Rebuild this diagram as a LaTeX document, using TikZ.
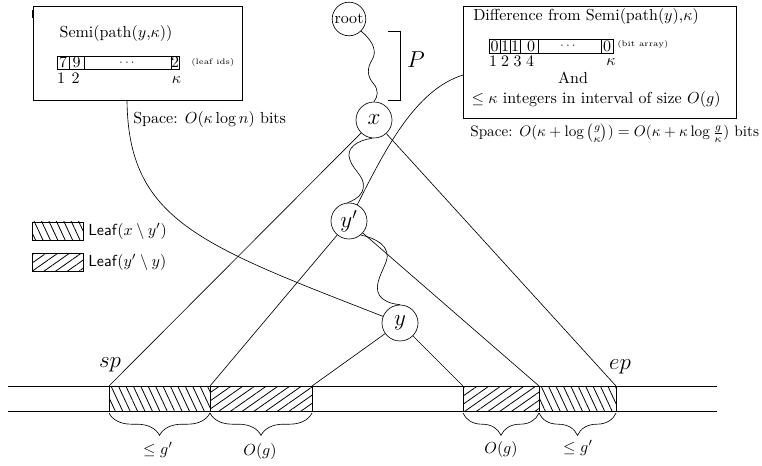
\documentclass[tikz,border=0pt]{standalone}
\usepackage{amsmath}
\usetikzlibrary{patterns.meta,decorations.pathreplacing}
\begin{document}
\begin{tikzpicture}[x=0.625pt,y=-0.625pt,
  treenode/.style={draw,circle,minimum size=22.5pt,inner sep=0pt,font=\Large},
  txt/.style={inner sep=0pt},
  hatchA/.style={pattern={Lines[angle=-65,distance=4.2pt,line width=0.5pt]}},
  hatchB/.style={pattern={Lines[angle=35,distance=4.2pt,line width=0.5pt]}},
  underbrace/.style={decorate,decoration={brace,mirror,amplitude=14pt}},
]
\useasboundingbox (0,0) rectangle (762,466);

% ---------- information boxes ----------
\node[draw,minimum width=130.6pt,minimum height=58.75pt,inner sep=0pt] (lbox) at (137.5,53) {};
\draw[line width=1pt] (33,10) -- (33,18);
\node[txt] (lhead) at (116,34) {Semi(path($y$,$\kappa$))};
\draw (57,56) rectangle (179,69);
\draw (69,56) -- (69,69) (84,56) -- (84,69) (171,56) -- (171,69);
\node[txt] (l7) at (63,62.5) {7};
\node[txt] (l9) at (76.5,62.5) {9};
\node[txt,font=\scriptsize] (ldots) at (128,62.5) {$\cdots$};
\node[txt] (l2) at (175,62.5) {2};
\node[txt,font=\tiny,anchor=west] (lids) at (191,63) {(leaf ids)};
\node[txt] (ln1) at (61,78) {1};
\node[txt] (ln2) at (75.5,78) {2};
\node[txt] (lk) at (176.5,80) {$\kappa$};
\node[txt,anchor=west] (lspace) at (133,120) {Space: $O(\kappa\log n)$ bits};

\node[draw,minimum width=170.6pt,minimum height=70pt,inner sep=0pt] (rbox) at (599.5,62) {};
\node[txt] (rhead) at (586,17) {Difference from Semi(path($y$),$\kappa$)};
\draw (489,39) rectangle (613,53);
\draw (500,39) -- (500,53) (510,39) -- (510,53) (520.5,39) -- (520.5,53)
      (538.5,39) -- (538.5,53) (601,39) -- (601,53);
\node[txt] (r1) at (494.5,46) {0};
\node[txt] (r2) at (505,46) {1};
\node[txt] (r3) at (515,46) {1};
\node[txt] (r4) at (531,46) {0};
\node[txt,font=\scriptsize] (rdots) at (569,46) {$\cdots$};
\node[txt] (r5) at (607,46) {0};
\node[txt,font=\tiny,anchor=west] (rbits) at (617,45) {(bit array)};
\node[txt] (rn1) at (493,61) {1};
\node[txt] (rn2) at (505,61) {2};
\node[txt] (rn3) at (517.5,61) {3};
\node[txt] (rn4) at (530,61) {4};
\node[txt] (rk) at (611,62) {$\kappa$};
\node[txt] (rand) at (573,78) {And};
\node[txt] (rint) at (596,100) {$\leq\kappa$ integers in interval of size $O(g)$};
\node[txt,anchor=west] (rspace) at (470,133)
  {\scalebox{0.95}{Space: $O(\kappa+\log\binom{g}{\kappa})=O(\kappa+\kappa\log\frac{g}{\kappa})$ bits}};

% ---------- tree nodes ----------
\node[treenode,font=\normalsize,minimum size=21pt] (root) at (349,19) {root};
\node[treenode] (x) at (374,120) {$x$};
\node[treenode] (yp) at (349,221) {$y'$};
\node[treenode] (y) at (400,323) {$y$};

% path bracket
\draw (388,31) -- (400,31) -- (400,100) -- (388,100);
\node[txt,font=\Large] (P) at (416,60) {$P$};

% ---------- leaf range ----------
\draw (8,386) -- (717,386);
\draw (8,411) -- (717,411);
\draw[hatchA] (109,386) rectangle (210,411);
\draw[hatchB] (210,386) rectangle (312,411);
\draw[hatchB] (463,386) rectangle (539,411);
\draw[hatchA] (539,386) rectangle (616,411);

\coordinate (sp) at (109,386);
\coordinate (a1) at (210,386);
\coordinate (a2) at (312,386);
\coordinate (b1) at (463,386);
\coordinate (b2) at (539,386);
\coordinate (ep) at (616,386);
\node[txt,font=\Large] (splab) at (110,365) {$sp$};
\node[txt,font=\Large] (eplab) at (620,367) {$ep$};

\draw (x) -- (sp);
\draw (x) -- (ep);
\draw (yp) -- (a1);
\draw (yp) -- (b2);
\draw (y) -- (a2);
\draw (y) -- (b1);

% wavy tree paths
\draw (root.-45) .. controls (374,42) and (377,52) .. (372,60)
  .. controls (367,68) and (367,76) .. (373,83)
  .. controls (379,90) and (378,96) .. (x.north);
\draw (x.-95) .. controls (358,140) and (345,148) .. (350,160)
  .. controls (354,172) and (368,178) .. (362,192)
  .. controls (359,198) and (352,201) .. (yp.95);
\draw (yp.-50) .. controls (375,238) and (392,246) .. (386,262)
  .. controls (381,275) and (371,290) .. (383,299)
  .. controls (388,303) and (394,304) .. (y.north);

% box connectors
\coordinate (lsrc) at (127,100);
\coordinate (rsrc) at (463,75);
\draw (lsrc) .. controls (128,220) and (200,245) .. (y);
\draw (rsrc) .. controls (415,90) and (385,150) .. (yp);

% braces
\draw[underbrace] (109,413) -- (210,413);
\draw[underbrace] (210,413) -- (312,413);
\draw[underbrace] (463,413) -- (539,413);
\draw[underbrace] (539,413) -- (616,413);
\node[txt] (g1) at (158,450) {$\leq g'$};
\node[txt] (o1) at (260,451) {$O(g)$};
\node[txt] (o2) at (501,449) {$O(g)$};
\node[txt] (g2) at (578,448) {$\leq g'$};

% legend
\draw[hatchA] (32,222) rectangle (83,240);
\draw[hatchB] (32,253) rectangle (83,271);
\node[txt,anchor=west] (leg1) at (88,231) {\textsf{Leaf}$(x\setminus y')$};
\node[txt,anchor=west] (leg2) at (88,262) {\textsf{Leaf}$(y'\setminus y)$};
\end{tikzpicture}
\end{document}
